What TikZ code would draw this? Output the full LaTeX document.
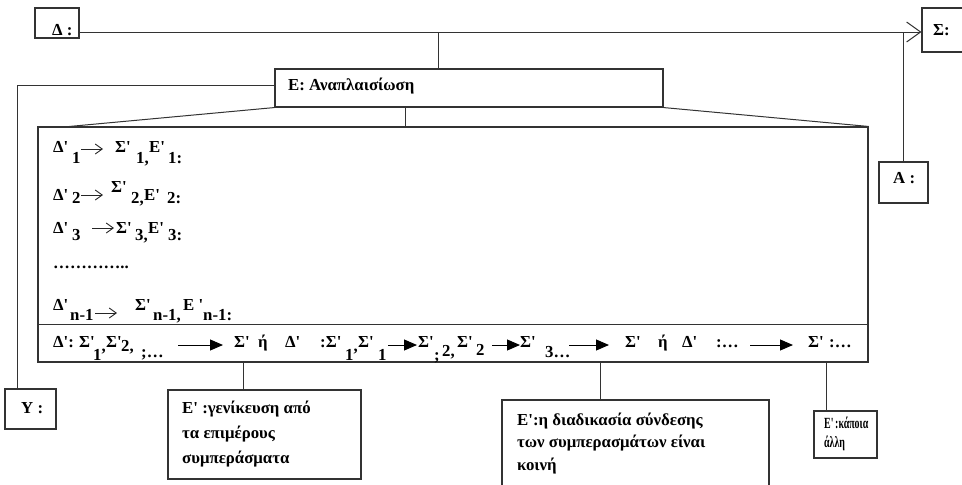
\documentclass[tikz,border=0pt]{standalone}
\usepackage{fontspec}
\setmainfont{Liberation Serif}[Ligatures=TeXOff]
\usetikzlibrary{arrows.meta}

\tikzset{
  ln/.style={draw=black!80, line width=1pt},
  box/.style={draw=black!80, line width=1.1pt, inner sep=0pt},
  txt/.style={anchor=base west, inner sep=0pt, text=black,
              font=\fontsize{16.8}{20}\selectfont\bfseries},
  narrowtxt/.style={txt, font=\fontsize{15.5}{18}\selectfont\bfseries},
  openarr/.style={draw=black!85, line width=0.9pt, -{Straight Barb[length=7pt,width=10pt]}},
  solidarr/.style={draw=black, line width=1pt, -{Triangle[length=13pt,width=11pt]}}
}

\begin{document}
\begin{tikzpicture}[x=1pt,y=-1pt]
\useasboundingbox (0,0) rectangle (962,485);

% ---- boxes ----
\node[box, minimum width=44pt,  minimum height=30pt]  (D)  at (57,23)      {};
\node[box, minimum width=56pt,  minimum height=44pt]  (S)  at (950,30)     {};
\node[box, minimum width=388pt, minimum height=38pt]  (E)  at (469,88)     {};
\node[box, minimum width=49pt,  minimum height=41pt]  (A)  at (903.5,182.5){};
\node[box, minimum width=830pt, minimum height=235pt] (M)  at (453,244.5)  {};
\node[box, minimum width=51pt,  minimum height=40pt]  (Y)  at (30.5,409)   {};
\node[box, minimum width=193pt, minimum height=89pt]  (B1) at (264.5,434.5){};
\node[box, minimum width=267pt, minimum height=100pt] (B2) at (635.5,450)  {};
\node[box, minimum width=63pt,  minimum height=47pt]  (B3) at (845.5,434.5){};

% ---- box labels ----
\node[txt] (tD) at (52,35)  {Δ :};
\node[txt] (tS) at (933,35) {Σ:};
\node[txt] (tE) at (288,90) {E: Αναπλαισίωση};
\node[txt] (tA) at (893,183) {A :};
\node[txt] (tY) at (21,413) {Y :};
\node[txt] (tB1a) at (182,413) {E' :γενίκευση από};
\node[txt] (tB1b) at (182,438) {τα επιμέρους};
\node[txt] (tB1c) at (182,463) {συμπεράσματα};
\node[txt] (tB2a) at (517,425) {E':η διαδικασία σύνδεσης};
\node[txt] (tB2b) at (517,447) {των συμπερασμάτων είναι};
\node[txt] (tB2c) at (517,470) {κοινή};
\node[narrowtxt] (tB3a) at (824,428) {\scalebox{0.64}[1]{E'\,:κάποια}};
\node[narrowtxt] (tB3b) at (824,447) {\scalebox{0.64}[1]{άλλη}};

% ---- connectors ----
\coordinate (jE) at (438,32);
\draw[ln, -{Straight Barb[length=14pt,width=20pt]}] ([yshift=-9pt]D.east) -- ([yshift=-2pt]S.west);
\draw[ln] (jE) -- (jE |- E.north);
\draw[ln] (A.north) -- (A.north |- jE);
\draw[ln] ([yshift=3pt]E.west) -| ([xshift=-13.5pt]Y.north);
\draw[ln] (E.south west) -- ([xshift=32pt]M.north west);
\draw[ln] (E.south east) -- (M.north east);
\draw[ln] ([xshift=-64pt]E.south) -- ([xshift=-64pt]E.south |- M.north);
\coordinate (sep) at (0,324);
\draw[ln] (M.west |- sep) -- (M.east |- sep);
\draw[ln] ([xshift=-21.5pt]B1.north) -- ([xshift=-21.5pt]B1.north |- M.south);
\draw[ln] ([xshift=-35.5pt]B2.north) -- ([xshift=-35.5pt]B2.north |- M.south);
\draw[ln] ([xshift=-19.5pt]B3.north) -- ([xshift=-19.5pt]B3.north |- M.south);

% ---- sub-argument lines ----
\node[txt] (l1a) at (53,152)  {Δ'};
\node[txt] (l1b) at (72,163)  {1};
\node[txt] (l1c) at (115,152) {Σ'};
\node[txt] (l1d) at (136,163) {1,};
\node[txt] (l1f) at (149,152) {E'};
\node[txt] (l1g) at (168,163) {1:};
\coordinate (l1s) at (81,149); \coordinate (l1e) at (103,149);
\draw[openarr] (l1s) -- (l1e);

\node[txt] (l2a) at (53,200)  {Δ'};
\node[txt] (l2b) at (72,203)  {2};
\node[txt] (l2c) at (111,192) {Σ'};
\node[txt] (l2d) at (131,203) {2,};
\node[txt] (l2f) at (144,200) {E'};
\node[txt] (l2g) at (167,203) {2:};
\coordinate (l2s) at (81,195); \coordinate (l2e) at (103,195);
\draw[openarr] (l2s) -- (l2e);

\node[txt] (l3a) at (53,233)  {Δ'};
\node[txt] (l3b) at (72,240)  {3};
\node[txt] (l3c) at (116,233) {Σ'};
\node[txt] (l3d) at (135,240) {3,};
\node[txt] (l3f) at (148,233) {E'};
\node[txt] (l3g) at (168,240) {3:};
\coordinate (l3s) at (92,228); \coordinate (l3e) at (114,228);
\draw[openarr] (l3s) -- (l3e);

\node[txt] (ldots) at (53,268) {…………..};

\node[txt] (lna) at (53,310)  {Δ'};
\node[txt] (lnb) at (70,320)  {n-1};
\node[txt] (lnc) at (135,310) {Σ'};
\node[txt] (lnd) at (153,320) {n-1,};
\node[txt] (lnf) at (183,310) {E '};
\node[txt] (lng) at (203,320) {n-1:};
\coordinate (lns) at (95,313); \coordinate (lne) at (117,313);
\draw[openarr] (lns) -- (lne);

% ---- bottom chain ----
\node[txt] (r1)  at (53,347)  {Δ':};
\node[txt] (r2)  at (79,347)  {Σ'};
\node[txt] (r3)  at (93,360)  {1};
\node[txt] (r4)  at (101.5,351) {,};
\node[txt] (r5)  at (106,347) {Σ'};
\node[txt] (r6)  at (121,351) {2,};
\node[txt] (r7)  at (141,357) {;…};
\node[txt] (r8)  at (234,347) {Σ'};
\node[txt] (r9)  at (258,347) {ή};
\node[txt] (r10) at (285,347) {Δ'};
\node[txt] (r11) at (320,347) {:Σ'};
\node[txt] (r12) at (345,360) {1};
\node[txt] (r13) at (353.5,351) {,};
\node[txt] (r14) at (358,347) {Σ'};
\node[txt] (r15) at (378,360) {1};
\node[txt] (r16) at (418,347) {Σ'};
\node[txt] (r17) at (434,360) {;};
\node[txt] (r18) at (442,356) {2,};
\node[txt] (r19) at (457,347) {Σ'};
\node[txt] (r20) at (476,355) {2};
\node[txt] (r21) at (520,347) {Σ'};
\node[txt] (r22) at (545,357) {3…};
\node[txt] (r23) at (625,347) {Σ'};
\node[txt] (r24) at (658,347) {ή};
\node[txt] (r25) at (682,347) {Δ'};
\node[txt] (r26) at (716,347) {:…};
\node[txt] (r27) at (808,347) {Σ'};
\node[txt] (r28) at (829,347) {:…};

\coordinate (a1s) at (178,345); \coordinate (a1e) at (223,345);
\coordinate (a2s) at (388,345); \coordinate (a2e) at (417,345);
\coordinate (a3s) at (492,345); \coordinate (a3e) at (520,345);
\coordinate (a4s) at (569,345); \coordinate (a4e) at (609,345);
\coordinate (a5s) at (750,345); \coordinate (a5e) at (793,345);
\draw[solidarr] (a1s) -- (a1e);
\draw[solidarr] (a2s) -- (a2e);
\draw[solidarr] (a3s) -- (a3e);
\draw[solidarr] (a4s) -- (a4e);
\draw[solidarr] (a5s) -- (a5e);
\end{tikzpicture}
\end{document}
